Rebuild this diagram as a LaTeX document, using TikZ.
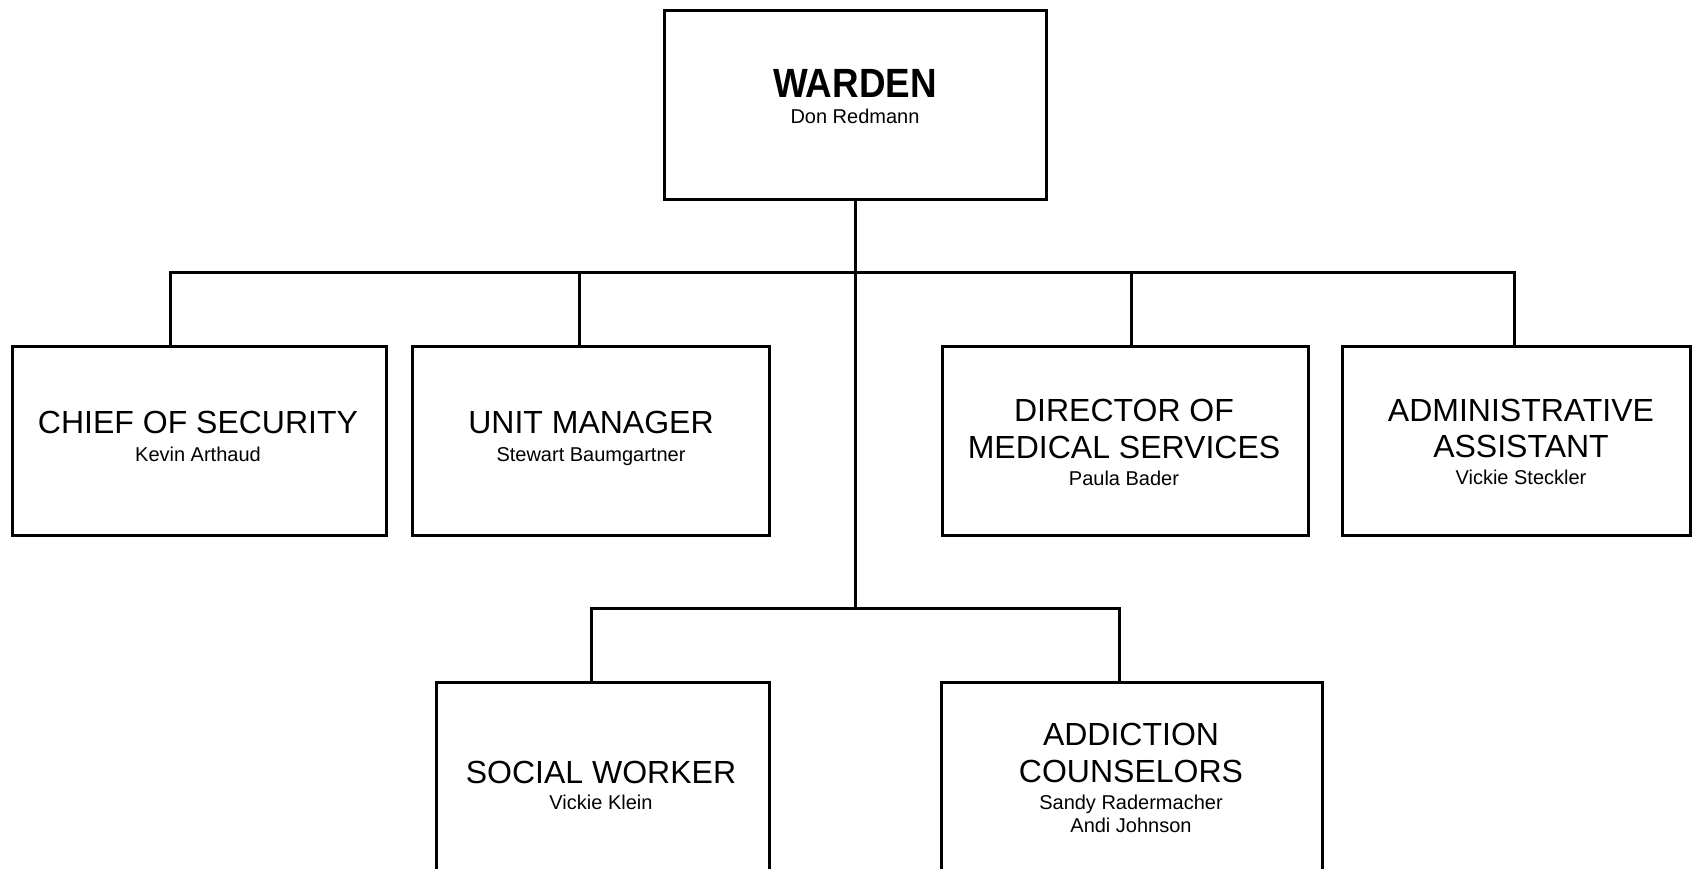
\documentclass[tikz,border=0pt]{standalone}
\usepackage{fontspec}
\setmainfont{Liberation Sans}
\begin{document}
\begin{tikzpicture}[x=0.5pt,y=-0.5pt,
  box/.style={draw,line width=1.5pt,rectangle,inner sep=0pt,outer sep=0pt,minimum height=94.5pt},
  wire/.style={line width=1.5pt,line join=miter},
  ttl/.style={anchor=base,inner sep=0pt,font=\fontsize{16}{19}\selectfont},
  nm/.style={anchor=base,inner sep=0pt,font=\fontsize{10}{12}\selectfont},
  boss/.style={anchor=base,inner sep=0pt,font=\bfseries\fontsize{18.4}{22}\selectfont}]
\clip (0,0) rectangle (1692,868);
\fill[white] (0,0) rectangle (1692,868);

% boxes
\node[box,minimum width=191pt]   (warden)   at (855,104.5) {};
\node[box,minimum width=187pt]   (chief)    at (199,440.5) {};
\node[box,minimum width=178.5pt] (unit)     at (590.5,440.5) {};
\node[box,minimum width=183pt]   (medical)  at (1125,440.5) {};
\node[box,minimum width=174pt]   (admin)    at (1516,440.5) {};
\node[box,minimum width=166.5pt] (social)   at (602.5,776.5) {};
\node[box,minimum width=190.5pt] (addict)   at (1131.5,776.5) {};

% bus junctions
\coordinate (busL) at (170,272);
\coordinate (busR) at (1514,272);
\coordinate (dropU) at (579,272);
\coordinate (dropM) at (1131,272);
\coordinate (bus2L) at (591,608);
\coordinate (bus2R) at (1119,608);

% connectors
\draw[wire] (warden.south) -- (warden.south |- bus2L);
\draw[wire] (busL |- chief.north) -- (busL) -- (busR) -- (busR |- admin.north);
\draw[wire] (dropU) -- (dropU |- unit.north);
\draw[wire] (dropM) -- (dropM |- medical.north);
\draw[wire] (bus2L |- social.north) -- (bus2L) -- (bus2R) -- (bus2R |- addict.north);

% labels
\node[boss] (wardenT) at (855,97) {\scalebox{1}[1.11]{WARDEN}};
\node[nm]   (wardenN) at (855,123.5) {Don Redmann};

\node[ttl] (chiefT) at (198,433) {CHIEF OF SECURITY};
\node[nm]  (chiefN) at (198,461) {Kevin Arthaud};

\node[ttl] (unitT) at (591,433) {UNIT MANAGER};
\node[nm]  (unitN) at (591,461) {Stewart Baumgartner};

\node[ttl] (medicalT1) at (1124,421) {DIRECTOR OF};
\node[ttl] (medicalT2) at (1124,458) {MEDICAL SERVICES};
\node[nm]  (medicalN)  at (1124,485) {Paula Bader};

\node[ttl] (adminT1) at (1521,421) {ADMINISTRATIVE};
\node[ttl] (adminT2) at (1521,457) {ASSISTANT};
\node[nm]  (adminN)  at (1521,484) {Vickie Steckler};

\node[ttl] (socialT) at (601,783) {SOCIAL WORKER};
\node[nm]  (socialN) at (601,809) {Vickie Klein};

\node[ttl] (addictT1) at (1131,745) {ADDICTION};
\node[ttl] (addictT2) at (1131,782) {COUNSELORS};
\node[nm]  (addictN1) at (1131,809) {Sandy Radermacher};
\node[nm]  (addictN2) at (1131,832) {Andi Johnson};
\end{tikzpicture}
\end{document}
